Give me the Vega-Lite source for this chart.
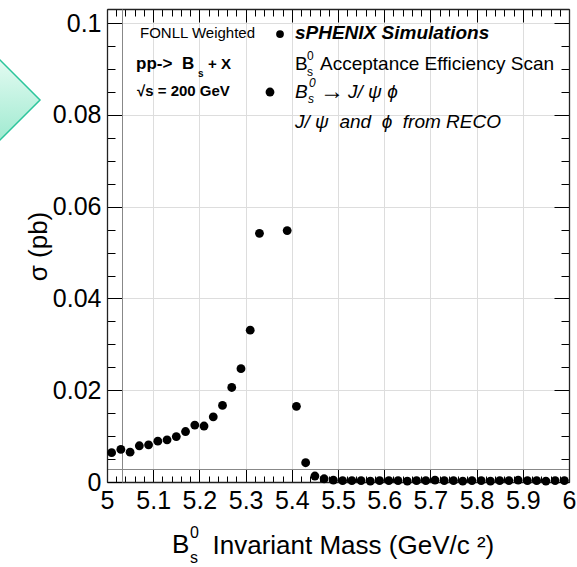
{
  "$schema": "https://vega.github.io/schema/vega-lite/v6.json",
  "autosize": {"type": "none"},
  "padding": {"left": 107, "top": 9, "right": 8, "bottom": 85},
  "width": 462,
  "height": 473,
  "background": "white",
  "datasets": {
    "pts": [
      {"m": 5.01, "sigma": 0.0064}, {"m": 5.03, "sigma": 0.0071}, {"m": 5.05, "sigma": 0.0065},
      {"m": 5.07, "sigma": 0.0079}, {"m": 5.09, "sigma": 0.0081}, {"m": 5.11, "sigma": 0.0089},
      {"m": 5.13, "sigma": 0.0092}, {"m": 5.15, "sigma": 0.0099}, {"m": 5.17, "sigma": 0.0110},
      {"m": 5.19, "sigma": 0.0124}, {"m": 5.21, "sigma": 0.0122}, {"m": 5.23, "sigma": 0.0142},
      {"m": 5.25, "sigma": 0.0167}, {"m": 5.27, "sigma": 0.0206}, {"m": 5.29, "sigma": 0.0247},
      {"m": 5.31, "sigma": 0.0331}, {"m": 5.33, "sigma": 0.0542}, {"m": 5.39, "sigma": 0.0548},
      {"m": 5.41, "sigma": 0.0165}, {"m": 5.43, "sigma": 0.0042}, {"m": 5.45, "sigma": 0.0013},
      {"m": 5.47, "sigma": 0.0007}, {"m": 5.49, "sigma": 0.0004}, {"m": 5.51, "sigma": 0.0003},
      {"m": 5.53, "sigma": 0.0003}, {"m": 5.55, "sigma": 0.0003}, {"m": 5.57, "sigma": 0.0002},
      {"m": 5.59, "sigma": 0.0003}, {"m": 5.61, "sigma": 0.0003}, {"m": 5.63, "sigma": 0.0003},
      {"m": 5.65, "sigma": 0.0002}, {"m": 5.67, "sigma": 0.0003}, {"m": 5.69, "sigma": 0.0003},
      {"m": 5.71, "sigma": 0.0004}, {"m": 5.73, "sigma": 0.0003}, {"m": 5.75, "sigma": 0.0003},
      {"m": 5.77, "sigma": 0.0002}, {"m": 5.79, "sigma": 0.0003}, {"m": 5.81, "sigma": 0.0003},
      {"m": 5.83, "sigma": 0.0002}, {"m": 5.85, "sigma": 0.0003}, {"m": 5.87, "sigma": 0.0003},
      {"m": 5.89, "sigma": 0.0004}, {"m": 5.91, "sigma": 0.0003}, {"m": 5.93, "sigma": 0.0003},
      {"m": 5.95, "sigma": 0.0002}, {"m": 5.97, "sigma": 0.0003}, {"m": 5.99, "sigma": 0.0003}
    ]
  },
  "layer": [
    {
      "data": {"name": "pts"},
      "mark": {"type": "circle", "size": 78, "color": "#000", "opacity": 1},
      "encoding": {
        "x": {"field": "m", "type": "quantitative",
          "scale": {"domain": [5, 6], "nice": false, "zero": false},
          "axis": {"orient": "bottom", "offset": -13, "values": [5, 5.1, 5.2, 5.3, 5.4, 5.5, 5.6, 5.7, 5.8, 5.9, 6],
            "format": "~g", "tickSize": 13, "tickColor": "black", "tickWidth": 1, "labelPadding": 6,
            "labelFont": "Liberation Sans", "labelFontSize": 25, "labelColor": "#000", "labelFlush": false,
            "title": "Invariant Mass (GeV/c ²)", "titleX": 105, "titleY": 84, "titleFont": "Liberation Sans",
            "titleFontSize": 26, "titleFontWeight": "normal", "titleColor": "#000",
            "titleAlign": "left", "titleBaseline": "alphabetic", "titleAngle": 0}},
        "y": {"field": "sigma", "type": "quantitative",
          "scale": {"domain": [0, 0.1031], "nice": false, "zero": false},
          "axis": {"orient": "left", "offset": -15, "values": [0, 0.02, 0.04, 0.06, 0.08, 0.1],
            "format": "~g", "tickSize": 15, "tickColor": "black", "tickWidth": 1, "labelPadding": 6,
            "labelFont": "Liberation Sans", "labelFontSize": 25, "labelColor": "#000",
            "title": "σ (pb)", "titleX": -84, "titleY": 237, "titleAngle": -90, "titleFont": "Liberation Sans",
            "titleFontSize": 26, "titleFontWeight": "normal", "titleColor": "#000",
            "titleAlign": "center", "titleBaseline": "middle"}}
      }
    },
    {
      "data": {"name": "pts"},
      "mark": {"type": "point", "opacity": 0},
      "encoding": {
        "x": {"field": "m", "type": "quantitative",
          "axis": {"orient": "bottom", "offset": -6, "values": [5.02,5.04,5.06,5.08,5.12,5.14,5.16,5.18,5.22,5.24,5.26,5.28,5.32,5.34,5.36,5.38,5.42,5.44,5.46,5.48,5.52,5.54,5.56,5.58,5.62,5.64,5.66,5.68,5.72,5.74,5.76,5.78,5.82,5.84,5.86,5.88,5.92,5.94,5.96,5.98],
            "domain": false, "grid": false, "tickSize": 6, "tickColor": "black", "tickWidth": 1, "labels": false, "title": null}},
        "y": {"field": "sigma", "type": "quantitative",
          "axis": {"orient": "left", "offset": -8, "values": [0.005,0.01,0.015,0.025,0.03,0.035,0.045,0.05,0.055,0.065,0.07,0.075,0.085,0.09,0.095],
            "domain": false, "grid": false, "tickSize": 8, "tickColor": "black", "tickWidth": 1, "labels": false, "title": null}}
      }
    },
    {
      "data": {"name": "pts"},
      "mark": {"type": "point", "opacity": 0},
      "encoding": {
        "x": {"field": "m", "type": "quantitative",
          "axis": {"orient": "top", "offset": -13, "values": [5, 5.1, 5.2, 5.3, 5.4, 5.5, 5.6, 5.7, 5.8, 5.9, 6],
            "domain": false, "grid": false, "tickSize": 13, "tickColor": "black", "tickWidth": 1, "labels": false, "title": null}},
        "y": {"field": "sigma", "type": "quantitative",
          "axis": {"orient": "right", "offset": -15, "values": [0, 0.02, 0.04, 0.06, 0.08, 0.1],
            "domain": false, "grid": false, "tickSize": 15, "tickColor": "black", "tickWidth": 1, "labels": false, "title": null}}
      }
    },
    {
      "data": {"name": "pts"},
      "mark": {"type": "point", "opacity": 0},
      "encoding": {
        "x": {"field": "m", "type": "quantitative",
          "axis": {"orient": "top", "offset": -7, "values": [5.02,5.04,5.06,5.08,5.12,5.14,5.16,5.18,5.22,5.24,5.26,5.28,5.32,5.34,5.36,5.38,5.42,5.44,5.46,5.48,5.52,5.54,5.56,5.58,5.62,5.64,5.66,5.68,5.72,5.74,5.76,5.78,5.82,5.84,5.86,5.88,5.92,5.94,5.96,5.98],
            "domain": false, "grid": false, "tickSize": 7, "tickColor": "black", "tickWidth": 1, "labels": false, "title": null}},
        "y": {"field": "sigma", "type": "quantitative",
          "axis": {"orient": "right", "offset": -8, "values": [0.005,0.01,0.015,0.025,0.03,0.035,0.045,0.05,0.055,0.065,0.07,0.075,0.085,0.09,0.095],
            "domain": false, "grid": false, "tickSize": 8, "tickColor": "black", "tickWidth": 1, "labels": false, "title": null}}
      }
    },
    {
      "data": {"name": "pts"},
      "mark": {"type": "point", "opacity": 0},
      "encoding": {
        "x": {"field": "m", "type": "quantitative",
          "axis": {"orient": "bottom", "values": [5, 6], "domain": true, "domainColor": "#222", "domainWidth": 1.3,
            "tickSize": 0, "labels": false, "grid": false, "title": null}},
        "y": {"field": "sigma", "type": "quantitative",
          "axis": {"orient": "left", "values": [0], "domain": true, "domainColor": "#222", "domainWidth": 1.3,
            "tickSize": 0, "labels": false, "grid": false, "title": null}}
      }
    },
    {
      "data": {"name": "pts"},
      "mark": {"type": "point", "opacity": 0},
      "encoding": {
        "x": {"field": "m", "type": "quantitative",
          "axis": {"orient": "top", "values": [5, 6], "domain": true, "domainColor": "#222", "domainWidth": 1.3,
            "tickSize": 0, "labels": false, "grid": false, "title": null}},
        "y": {"field": "sigma", "type": "quantitative",
          "axis": {"orient": "right", "values": [0], "domain": true, "domainColor": "#222", "domainWidth": 1.3,
            "tickSize": 0, "labels": false, "grid": false, "title": null}}
      }
    },
    {
      "data": {"values": [{}]},
      "mark": {"type": "text", "text": "B", "fontSize": 26, "font": "Liberation Sans", "align": "left", "baseline": "alphabetic", "color": "#000"},
      "encoding": {"x": {"datum": 5.1407, "type": "quantitative", "axis": null}, "y": {"datum": -0.015475, "type": "quantitative", "axis": null}}
    },
    {
      "data": {"values": [{}]},
      "mark": {"type": "text", "text": "0", "fontSize": 16, "font": "Liberation Sans", "align": "left", "baseline": "alphabetic", "color": "#000"},
      "encoding": {"x": {"datum": 5.1797, "type": "quantitative", "axis": null}, "y": {"datum": -0.012206, "type": "quantitative", "axis": null}}
    },
    {
      "data": {"values": [{}]},
      "mark": {"type": "text", "text": "s", "fontSize": 16, "font": "Liberation Sans", "align": "left", "baseline": "alphabetic", "color": "#000"},
      "encoding": {"x": {"datum": 5.1797, "type": "quantitative", "axis": null}, "y": {"datum": -0.017655, "type": "quantitative", "axis": null}}
    },
    {
      "data": {"values": [{}]},
      "mark": {"type": "text", "text": "FONLL Weighted", "fontSize": 15, "font": "Liberation Sans", "align": "left", "baseline": "middle", "color": "#000"},
      "encoding": {"x": {"datum": 5.0714, "type": "quantitative", "axis": null}, "y": {"datum": 0.09786, "type": "quantitative", "axis": null}}
    },
    {
      "data": {"values": [{}]},
      "mark": {"type": "circle", "size": 60, "color": "#000", "opacity": 1},
      "encoding": {"x": {"datum": 5.3745, "type": "quantitative", "axis": null}, "y": {"datum": 0.09765, "type": "quantitative", "axis": null}}
    },
    {
      "data": {"values": [{}]},
      "mark": {"type": "text", "text": "sPHENIX Simulations", "fontSize": 19, "fontWeight": "bold", "fontStyle": "italic", "font": "Liberation Sans", "align": "left", "baseline": "middle", "color": "#000"},
      "encoding": {"x": {"datum": 5.4069, "type": "quantitative", "axis": null}, "y": {"datum": 0.09786, "type": "quantitative", "axis": null}}
    },
    {
      "data": {"values": [{}]},
      "mark": {"type": "text", "text": "pp->", "fontSize": 17, "fontWeight": "bold", "font": "Liberation Sans", "align": "left", "baseline": "middle", "color": "#000"},
      "encoding": {"x": {"datum": 5.0628, "type": "quantitative", "axis": null}, "y": {"datum": 0.09122, "type": "quantitative", "axis": null}}
    },
    {
      "data": {"values": [{}]},
      "mark": {"type": "text", "text": "B", "fontSize": 17, "fontWeight": "bold", "font": "Liberation Sans", "align": "left", "baseline": "middle", "color": "#000"},
      "encoding": {"x": {"datum": 5.1623, "type": "quantitative", "axis": null}, "y": {"datum": 0.09122, "type": "quantitative", "axis": null}}
    },
    {
      "data": {"values": [{}]},
      "mark": {"type": "text", "text": "s", "fontSize": 10, "fontWeight": "bold", "font": "Liberation Sans", "align": "left", "baseline": "middle", "color": "#000"},
      "encoding": {"x": {"datum": 5.197, "type": "quantitative", "axis": null}, "y": {"datum": 0.08893, "type": "quantitative", "axis": null}}
    },
    {
      "data": {"values": [{}]},
      "mark": {"type": "text", "text": "+ X", "fontSize": 15, "fontWeight": "bold", "font": "Liberation Sans", "align": "left", "baseline": "middle", "color": "#000"},
      "encoding": {"x": {"datum": 5.2186, "type": "quantitative", "axis": null}, "y": {"datum": 0.09122, "type": "quantitative", "axis": null}}
    },
    {
      "data": {"values": [{}]},
      "mark": {"type": "text", "text": "B", "fontSize": 19, "font": "Liberation Sans", "align": "left", "baseline": "middle", "color": "#000"},
      "encoding": {"x": {"datum": 5.4069, "type": "quantitative", "axis": null}, "y": {"datum": 0.09122, "type": "quantitative", "axis": null}}
    },
    {
      "data": {"values": [{}]},
      "mark": {"type": "text", "text": "0", "fontSize": 12, "font": "Liberation Sans", "align": "left", "baseline": "middle", "color": "#000"},
      "encoding": {"x": {"datum": 5.4329, "type": "quantitative", "axis": null}, "y": {"datum": 0.09285, "type": "quantitative", "axis": null}}
    },
    {
      "data": {"values": [{}]},
      "mark": {"type": "text", "text": "s", "fontSize": 12, "font": "Liberation Sans", "align": "left", "baseline": "middle", "color": "#000"},
      "encoding": {"x": {"datum": 5.4329, "type": "quantitative", "axis": null}, "y": {"datum": 0.08936, "type": "quantitative", "axis": null}}
    },
    {
      "data": {"values": [{}]},
      "mark": {"type": "text", "text": "Acceptance Efficiency Scan", "fontSize": 19, "font": "Liberation Sans", "align": "left", "baseline": "middle", "color": "#000"},
      "encoding": {"x": {"datum": 5.461, "type": "quantitative", "axis": null}, "y": {"datum": 0.09122, "type": "quantitative", "axis": null}}
    },
    {
      "data": {"values": [{}]},
      "mark": {"type": "text", "text": "√s = 200 GeV", "fontSize": 15, "fontWeight": "bold", "font": "Liberation Sans", "align": "left", "baseline": "middle", "color": "#000"},
      "encoding": {"x": {"datum": 5.0649, "type": "quantitative", "axis": null}, "y": {"datum": 0.08522, "type": "quantitative", "axis": null}}
    },
    {
      "data": {"values": [{}]},
      "mark": {"type": "circle", "size": 78, "color": "#000", "opacity": 1},
      "encoding": {"x": {"datum": 5.3528, "type": "quantitative", "axis": null}, "y": {"datum": 0.085, "type": "quantitative", "axis": null}}
    },
    {
      "data": {"values": [{}]},
      "mark": {"type": "text", "text": "B", "fontSize": 19, "fontStyle": "italic", "font": "Liberation Sans", "align": "left", "baseline": "middle", "color": "#000"},
      "encoding": {"x": {"datum": 5.4069, "type": "quantitative", "axis": null}, "y": {"datum": 0.0849, "type": "quantitative", "axis": null}}
    },
    {
      "data": {"values": [{}]},
      "mark": {"type": "text", "text": "0", "fontSize": 12, "fontStyle": "italic", "font": "Liberation Sans", "align": "left", "baseline": "middle", "color": "#000"},
      "encoding": {"x": {"datum": 5.4372, "type": "quantitative", "axis": null}, "y": {"datum": 0.08697, "type": "quantitative", "axis": null}}
    },
    {
      "data": {"values": [{}]},
      "mark": {"type": "text", "text": "s", "fontSize": 12, "fontStyle": "italic", "font": "Liberation Sans", "align": "left", "baseline": "middle", "color": "#000"},
      "encoding": {"x": {"datum": 5.4351, "type": "quantitative", "axis": null}, "y": {"datum": 0.08348, "type": "quantitative", "axis": null}}
    },
    {
      "data": {"values": [{}]},
      "mark": {"type": "text", "text": "→", "fontSize": 24, "font": "Liberation Sans", "align": "left", "baseline": "middle", "color": "#000"},
      "encoding": {"x": {"datum": 5.461, "type": "quantitative", "axis": null}, "y": {"datum": 0.0851, "type": "quantitative", "axis": null}}
    },
    {
      "data": {"values": [{}]},
      "mark": {"type": "text", "text": "J/\u00a0ψ\u00a0ϕ", "fontSize": 19, "fontStyle": "italic", "font": "Liberation Sans", "align": "left", "baseline": "middle", "color": "#000"},
      "encoding": {"x": {"datum": 5.5216, "type": "quantitative", "axis": null}, "y": {"datum": 0.0849, "type": "quantitative", "axis": null}}
    },
    {
      "data": {"values": [{}]},
      "mark": {"type": "text", "text": "J/\u00a0ψ\u00a0\u00a0and\u00a0\u00a0ϕ\u00a0\u00a0from RECO", "fontSize": 19, "fontStyle": "italic", "font": "Liberation Sans", "align": "left", "baseline": "middle", "color": "#000"},
      "encoding": {"x": {"datum": 5.4069, "type": "quantitative", "axis": null}, "y": {"datum": 0.07847, "type": "quantitative", "axis": null}}
    },
    {
      "data": {"values": [{}]},
      "mark": {"type": "point", "shape": "diamond", "size": 7056, "filled": true, "opacity": 1,
        "fill": {"gradient": "linear", "x1": 0, "y1": 0, "x2": 0, "y2": 1,
          "stops": [{"offset": 0, "color": "#e4fbf2"}, {"offset": 1, "color": "#9fead0"}]},
        "stroke": "#2cc59c", "strokeWidth": 1.5},
      "encoding": {
        "x": {"datum": 4.7641, "type": "quantitative", "axis": null},
        "y": {"datum": 0.08326, "type": "quantitative", "axis": null}
      }
    }
  ],
  "resolve": {"axis": {"x": "independent", "y": "independent"}}
}
